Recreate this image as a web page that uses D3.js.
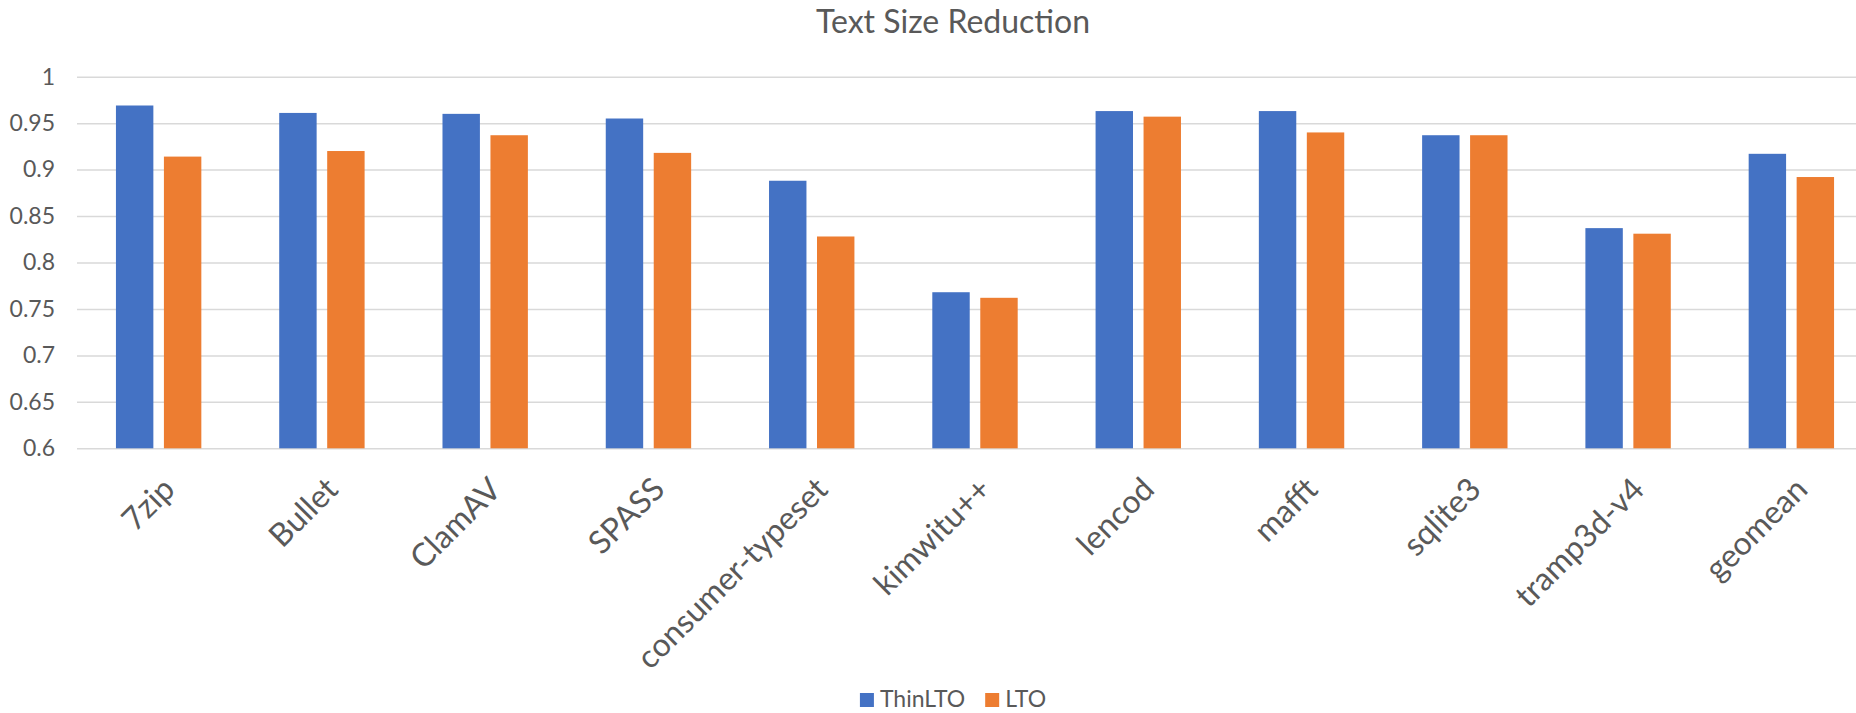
<!DOCTYPE html>
<html>
<head>
<meta charset="utf-8">
<script src="https://cdn.jsdelivr.net/npm/d3@7"></script>
<style>
  html, body { margin: 0; padding: 0; background: #fff; }
  svg { display: block; font-family: Lato, "Open Sans", sans-serif; }
</style>
</head>
<body>
<svg id="chart" width="1856" height="713"></svg>
<script>
const categories = ["7zip", "Bullet", "ClamAV", "SPASS", "consumer-typeset", "kimwitu++", "lencod", "mafft", "sqlite3", "tramp3d-v4", "geomean"];
const seriesNames = ["ThinLTO", "LTO"];
const thinLTO = [0.969, 0.961, 0.960, 0.955, 0.888, 0.768, 0.963, 0.963, 0.937, 0.837, 0.917];
const lto     = [0.914, 0.920, 0.937, 0.918, 0.828, 0.762, 0.957, 0.940, 0.937, 0.831, 0.892];
const yTicks  = [0.6, 0.65, 0.7, 0.75, 0.8, 0.85, 0.9, 0.95, 1];
const colors  = ["#4472C4", "#ED7D31"];
const title   = "Text Size Reduction";

const svg = d3.select("#chart");
const plot = { left: 77, right: 1873, top: 76.7, bottom: 448.3 };
const textColor = "#595959";

const x = d3.scaleBand().domain(categories).range([plot.left, plot.right])
  .paddingInner(0.477).paddingOuter(0.2385);
const xs = d3.scaleBand().domain(seriesNames).range([0, x.bandwidth()]).paddingInner(0.22);
const y = d3.scaleLinear().domain([0.6, 1]).range([plot.bottom, plot.top]);

// gridlines + y tick labels
const yAxis = d3.axisLeft(y).tickValues(yTicks).tickSize(-(plot.right - plot.left))
  .tickFormat(d => d3.format("~g")(d)).tickPadding(22);
const gy = svg.append("g").attr("transform", `translate(${plot.left},0)`).call(yAxis);
gy.select(".domain").remove();
gy.selectAll(".tick line").attr("stroke", "#d9d9d9").attr("stroke-width", 1.5);
gy.selectAll(".tick text").attr("fill", textColor).attr("font-size", 23)
  .attr("font-family", "Lato, sans-serif");

// bars
const data = categories.map((c, i) => ({ c, vals: [thinLTO[i], lto[i]] }));
const groups = svg.append("g").selectAll("g").data(data).join("g")
  .attr("transform", d => `translate(${x(d.c)},0)`);
groups.selectAll("rect").data(d => d.vals.map((v, k) => ({ v, k })))
  .join("rect")
  .attr("x", d => xs(seriesNames[d.k]))
  .attr("width", xs.bandwidth())
  .attr("y", d => y(d.v))
  .attr("height", d => y(0.6) - y(d.v))
  .attr("fill", d => colors[d.k]);

// x axis labels
const xAxis = d3.axisBottom(x).tickSize(0).tickPadding(0);
const gx = svg.append("g").attr("transform", `translate(0,${plot.bottom})`).call(xAxis);
gx.select(".domain").remove();
gx.selectAll(".tick text")
  .attr("fill", textColor).attr("font-size", 32).attr("font-family", "Lato, sans-serif")
  .attr("text-anchor", "end").attr("dy", 0).attr("y", 0)
  .attr("transform", "translate(18,43) rotate(-45)");

// title
svg.append("text").attr("x", 953).attr("y", 33).attr("text-anchor", "middle")
  .attr("fill", textColor).attr("font-size", 32).text(title);

// legend
const legend = svg.append("g");
const items = legend.selectAll("g").data(seriesNames).join("g");
items.append("rect").attr("width", 14).attr("height", 14).attr("y", 693)
  .attr("fill", (d, i) => colors[i]);
items.append("text").attr("x", 20).attr("y", 707).attr("fill", textColor)
  .attr("font-size", 23).text(d => d);
let offs = [], cur = 0;
items.each(function(d, i) {
  offs.push(cur);
  cur += this.getBBox().width + (i < seriesNames.length - 1 ? 20 : 0);
});
const start = 953 - cur / 2;
items.attr("transform", (d, i) => `translate(${start + offs[i]},0)`);
</script>
</body>
</html>
